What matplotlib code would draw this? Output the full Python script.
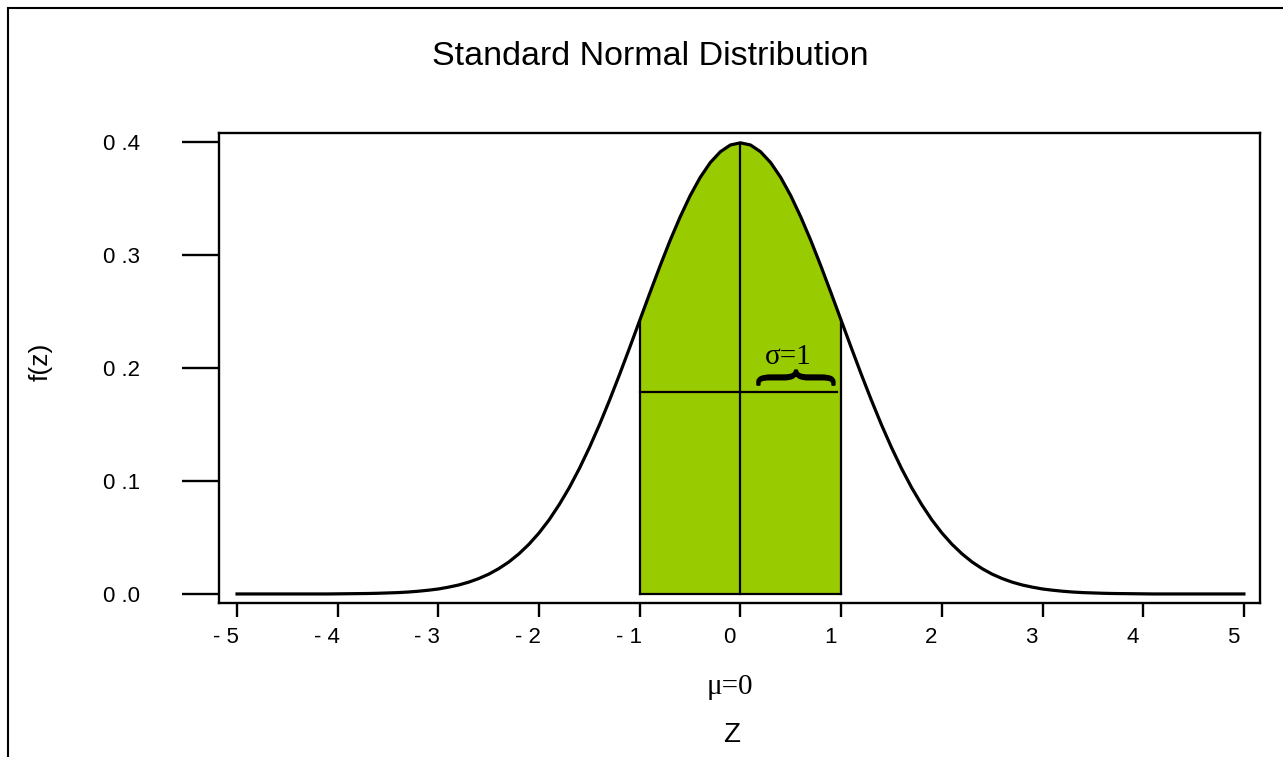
import numpy as np
import matplotlib
matplotlib.use("Agg")
import matplotlib.pyplot as plt
from matplotlib.patches import Rectangle, PathPatch
from matplotlib.path import Path
from matplotlib.textpath import TextPath
from matplotlib.font_manager import FontProperties
import matplotlib.transforms as mtransforms

# ---- data (density of the standard normal, read at z = 0.0, 0.1, ..., 5.0) ----
z_half = [round(0.1 * i, 1) for i in range(51)]
f_half = [0.3989, 0.3970, 0.3910, 0.3814, 0.3683, 0.3521, 0.3332, 0.3123, 0.2897, 0.2661,
          0.2420, 0.2179, 0.1942, 0.1714, 0.1497, 0.1295, 0.1109, 0.0940, 0.0790, 0.0656,
          0.0540, 0.0440, 0.0355, 0.0283, 0.0224, 0.0175, 0.0136, 0.0104, 0.0079, 0.0060,
          0.0044, 0.0033, 0.0024, 0.0017, 0.0012, 0.0009, 0.0006, 0.0004, 0.0003, 0.0002,
          0.0001, 0.0000, 0.0000, 0.0000, 0.0000, 0.0000, 0.0000, 0.0000, 0.0000, 0.0000,
          0.0000]
mu = 0.0
sigma = 1.0
sigma_line_y = 0.179
sigma_line_end = 0.96
x_ticks = [-5, -4, -3, -2, -1, 0, 1, 2, 3, 4, 5]
x_tick_labels = ["- 5", "- 4", "- 3", "- 2", "- 1", "0", "1", "2", "3", "4", "5"]
y_ticks = [0.0, 0.1, 0.2, 0.3, 0.4]
y_tick_labels = ["0 .0", "0 .1", "0 .2", "0 .3", "0 .4"]
title = "Standard Normal Distribution"

z = np.array([-v for v in z_half[:0:-1]] + z_half)
f = np.array(f_half[:0:-1] + f_half)

W, H = 1283, 757
fig = plt.figure(figsize=(W / 100, H / 100), dpi=100)
fig.patch.set_facecolor("white")

# outer frame
fig.patches.append(Rectangle((8 / W, -0.2), 1.5, (757 - 8) / H + 0.2, transform=fig.transFigure,
                             fill=False, edgecolor="black", linewidth=1.5, clip_on=False))

ax = fig.add_axes([219 / W, (H - 603) / H, 1041 / W, 470 / H])
ax.set_xlim(-5.179, 5.16)
ax.set_ylim(-0.008, 0.4076)

sans = "Liberation Sans"
serif = "Liberation Serif"

# shaded region mu +- sigma
mask = (z >= mu - sigma - 1e-9) & (z <= mu + sigma + 1e-9)
ax.fill_between(z[mask], 0, f[mask], color="#99CC00", linewidth=0, zorder=1)
i_lo = int(np.argmin(np.abs(z - (mu - sigma))))
i_hi = int(np.argmin(np.abs(z - (mu + sigma))))
i_mu = int(np.argmin(np.abs(z - mu)))
ax.plot([z[i_lo], z[i_lo]], [0, f[i_lo]], color="black", lw=1.6, zorder=3)
ax.plot([z[i_hi], z[i_hi]], [0, f[i_hi]], color="black", lw=1.6, zorder=3)
ax.plot([z[i_lo], z[i_hi]], [0, 0], color="black", lw=1.6, zorder=3)
ax.plot([mu, mu], [0, f[i_mu]], color="black", lw=1.6, zorder=3)
ax.plot([mu - sigma, sigma_line_end], [sigma_line_y, sigma_line_y], color="black", lw=1.6, zorder=3)

# curve
ax.plot(z, f, color="black", lw=2.3, zorder=4, solid_joinstyle="round")

# sigma label and brace
ax.text(0.47, 0.2035, "σ=1", family=serif, fontsize=21, ha="center", va="baseline", zorder=5)
tp = TextPath((0, 0), "{", size=1, prop=FontProperties(family=serif))
v = tp.vertices.copy()
rv = np.column_stack([v[:, 1], -v[:, 0]])
mn, mx = rv.min(axis=0), rv.max(axis=0)
rv = (rv - mn) / (mx - mn)
bx0, bx1 = 0.168, 0.934
by0, by1 = 0.1850, 0.2015
rv[:, 0] = bx0 + rv[:, 0] * (bx1 - bx0)
rv[:, 1] = by0 + rv[:, 1] * (by1 - by0)
ax.add_patch(PathPatch(Path(rv, tp.codes), facecolor="black", edgecolor="black",
                       linewidth=1.6, joinstyle="round", zorder=5))

# axes styling
for s in ax.spines.values():
    s.set_linewidth(1.7)
ax.set_xticks(x_ticks)
ax.set_xticklabels(x_tick_labels, family=sans, fontsize=16)
ax.set_yticks(y_ticks)
ax.set_yticklabels(y_tick_labels, family=sans, fontsize=16)
ax.tick_params(axis="x", direction="out", length=10, width=1.7, pad=7)
ax.tick_params(axis="y", direction="out", length=26.6, width=1.7, pad=30)
offset = mtransforms.ScaledTranslation(-11 / 100, 0, fig.dpi_scale_trans)
for lab in ax.get_xticklabels():
    lab.set_transform(lab.get_transform() + offset)

fig.text(650 / W, (H - 65) / H, title, family=sans, fontsize=24.5, ha="center", va="baseline")
fig.text(41 / W, (H - 362) / H, "f(z)", family=sans, fontsize=19, rotation=90, ha="center", va="center")
fig.text(730 / W, (H - 694) / H, "μ=0", family=serif, fontsize=21, ha="center", va="baseline")
fig.text(732 / W, (H - 742) / H, "Z", family=sans, fontsize=20, ha="center", va="baseline")

fig.savefig("out.png", dpi=100)
